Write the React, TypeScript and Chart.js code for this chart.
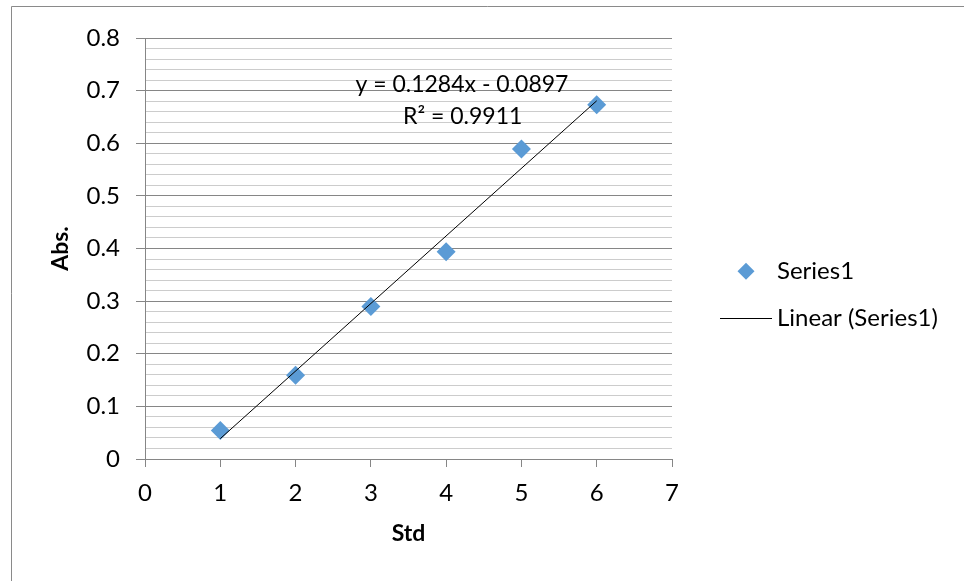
import React, { useEffect, useRef } from 'react';
import { Chart, registerables } from 'chart.js';

Chart.register(...registerables);

// ---- data ----
const STD = [1, 2, 3, 4, 5, 6];
const ABS = [0.054, 0.159, 0.29, 0.394, 0.589, 0.673];
const SLOPE = 0.1284;
const INTERCEPT = -0.0897;
const X_TICKS = [0, 1, 2, 3, 4, 5, 6, 7];
const Y_MAJOR_TICKS = [0, 0.1, 0.2, 0.3, 0.4, 0.5, 0.6, 0.7, 0.8];
const Y_MINOR_PER_MAJOR = 5;
const EQUATION_TEXT = 'y = 0.1284x - 0.0897';
const R2_TEXT = 'R\u00B2 = 0.9911';
const SERIES_LABEL = 'Series1';
const TREND_LABEL = 'Linear (Series1)';
const X_TITLE = 'Std';
const Y_TITLE = 'Abs.';

const FONT = 'Lato, "Noto Sans", sans-serif';
const MARKER = '#5B9BD5';
const MAJOR_GRID = '#868686';
const MINOR_GRID = '#cccccc';

const isMajor = (v: number) => Math.abs(Math.round(v * 100) % 10) === 0;

const decorPlugin = {
  id: 'decor',
  beforeDraw(chart: any) {
    const ctx = chart.ctx;
    ctx.save();
    ctx.strokeStyle = '#8a8a8a';
    ctx.lineWidth = 1;
    ctx.beginPath();
    ctx.moveTo(11.5, chart.height);
    ctx.lineTo(11.5, 6.5);
    ctx.lineTo(chart.width, 6.5);
    ctx.stroke();
    ctx.restore();
  },
  afterDraw(chart: any) {
    const ctx = chart.ctx;
    const xs = chart.scales.x;
    const ys = chart.scales.y;
    ctx.save();
    ctx.fillStyle = '#000';
    ctx.font = `23px ${FONT}`;
    ctx.textAlign = 'center';
    ctx.textBaseline = 'middle';
    ctx.fillText(EQUATION_TEXT, xs.getPixelForValue(4.21), ys.getPixelForValue(0.712));
    ctx.fillText(R2_TEXT, xs.getPixelForValue(4.22), ys.getPixelForValue(0.65));

    // legend
    ctx.font = `24px ${FONT}`;
    const lx = chart.chartArea.right;
    const y1 = ys.getPixelForValue(0.357);
    const y2 = ys.getPixelForValue(0.267);
    const cx = lx + 74;
    ctx.fillStyle = MARKER;
    ctx.beginPath();
    ctx.moveTo(cx, y1 - 8.5);
    ctx.lineTo(cx + 8.5, y1);
    ctx.lineTo(cx, y1 + 8.5);
    ctx.lineTo(cx - 8.5, y1);
    ctx.closePath();
    ctx.fill();
    ctx.strokeStyle = '#000';
    ctx.lineWidth = 1;
    ctx.beginPath();
    ctx.moveTo(lx + 48, Math.round(y2) + 0.5);
    ctx.lineTo(lx + 100, Math.round(y2) + 0.5);
    ctx.stroke();
    ctx.fillStyle = '#000';
    ctx.textAlign = 'left';
    ctx.fillText(SERIES_LABEL, lx + 105, y1);
    ctx.fillText(TREND_LABEL, lx + 105, y2);
    ctx.restore();
  },
};

export default function App() {
  const ref = useRef<HTMLCanvasElement | null>(null);

  useEffect(() => {
    if (!ref.current) return;
    const trendX = [STD[0], STD[STD.length - 1]];
    const chart = new Chart(ref.current, {
      type: 'scatter',
      data: {
        datasets: [
          {
            type: 'line',
            label: TREND_LABEL,
            data: trendX.map((x) => ({ x, y: SLOPE * x + INTERCEPT })),
            borderColor: '#000',
            borderWidth: 1,
            pointRadius: 0,
            fill: false,
            order: 0,
          } as any,
          {
            label: SERIES_LABEL,
            data: STD.map((x, i) => ({ x, y: ABS[i] })),
            backgroundColor: MARKER,
            borderColor: MARKER,
            pointStyle: 'rectRot',
            pointRadius: 9.5,
            borderWidth: 0,
            order: 1,
          },
        ],
      },
      plugins: [decorPlugin],
      options: {
        animation: false,
        responsive: false,
        maintainAspectRatio: false,
        layout: { padding: { left: 0, top: 38, right: 292, bottom: 0 } },
        plugins: { legend: { display: false }, tooltip: { enabled: false } },
        scales: {
          x: {
            type: 'linear',
            min: X_TICKS[0],
            max: X_TICKS[X_TICKS.length - 1],
            afterBuildTicks: (s: any) => {
              s.ticks = X_TICKS.map((v) => ({ value: v }));
            },
            afterFit: (s: any) => {
              s.height = 122;
            },
            ticks: {
              autoSkip: false,
              maxRotation: 0,
              padding: 12,
              color: '#000',
              font: { family: FONT, size: 24 },
              callback: (v: any) => String(v),
            },
            grid: {
              drawOnChartArea: false,
              drawTicks: true,
              tickLength: 8,
              tickColor: MAJOR_GRID,
            },
            border: { color: MAJOR_GRID, width: 1 },
            title: {
              display: true,
              text: X_TITLE,
              color: '#000',
              font: { family: FONT, size: 23, weight: 'bold' },
              padding: { top: 0, bottom: 34 },
            },
          },
          y: {
            type: 'linear',
            min: Y_MAJOR_TICKS[0],
            max: Y_MAJOR_TICKS[Y_MAJOR_TICKS.length - 1],
            afterBuildTicks: (s: any) => {
              const vals: number[] = [];
              for (let i = 0; i < Y_MAJOR_TICKS.length - 1; i++) {
                const a = Y_MAJOR_TICKS[i];
                const b = Y_MAJOR_TICKS[i + 1];
                for (let k = 0; k < Y_MINOR_PER_MAJOR; k++) vals.push(a + ((b - a) * k) / Y_MINOR_PER_MAJOR);
              }
              vals.push(Y_MAJOR_TICKS[Y_MAJOR_TICKS.length - 1]);
              s.ticks = vals.map((v) => ({ value: v }));
            },
            afterFit: (s: any) => {
              s.width = 145;
            },
            ticks: {
              autoSkip: false,
              padding: 16,
              color: '#000',
              font: { family: FONT, size: 24 },
              callback: (v: any) => {
                const n = Number(v);
                if (!isMajor(n)) return '';
                const r = Math.round(n * 10) / 10;
                return r === 0 ? '0' : r.toFixed(1);
              },
            },
            grid: {
              drawTicks: true,
              tickLength: 9,
              color: (c: any) => (isMajor(c.tick.value) ? MAJOR_GRID : MINOR_GRID),
              tickColor: (c: any) => (isMajor(c.tick.value) ? MAJOR_GRID : 'rgba(0,0,0,0)'),
              lineWidth: 1,
            },
            border: { color: MAJOR_GRID, width: 1 },
            title: {
              display: true,
              text: Y_TITLE,
              color: '#000',
              font: { family: FONT, size: 23, weight: 'bold' },
              padding: { top: 47, bottom: 0 },
            },
          },
        },
      },
    });
    return () => chart.destroy();
  }, []);

  return (
    <div style={{ position: 'absolute', left: 0, top: 0, width: 964, height: 581, background: '#fff' }}>
      <canvas ref={ref} width={964} height={581} style={{ display: 'block', width: 964, height: 581 }} />
    </div>
  );
}
